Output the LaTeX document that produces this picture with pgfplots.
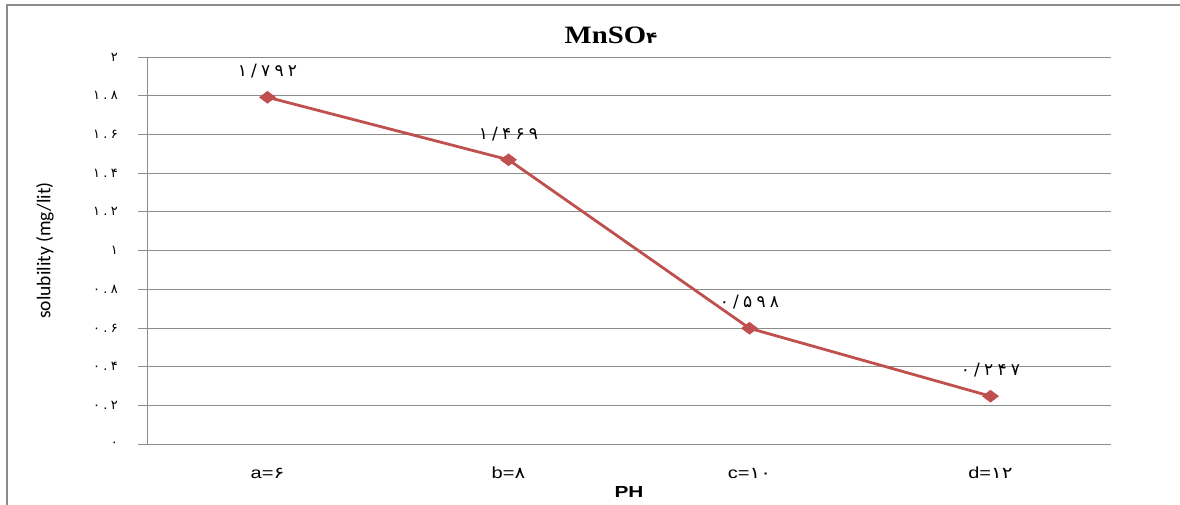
\documentclass[border=0pt]{standalone}
\usepackage{fontspec}
\setmainfont{Liberation Sans}
\newfontfamily\fa{DejaVu Sans}
\newfontfamily\fawide[LetterSpace=25]{DejaVu Sans}
\newfontfamily\titlefont{Liberation Serif}
\newfontfamily\calibri{Carlito}
\usepackage{pgfplots}
\pgfplotsset{compat=1.18}
\definecolor{serred}{HTML}{C0504D}
\definecolor{gridgray}{HTML}{8C8C8C}

\begin{document}
\begin{tikzpicture}[x=1pt,y=1pt]
\useasboundingbox (0,0) rectangle (1180,-504);
% chart area frame
\begin{scope}
\clip (0,0) rectangle (1180,-504);
\draw[gridgray, line width=1.2pt] (7,-5) rectangle (1220,-540);
\end{scope}
% title
\node[anchor=base, xscale=1.15] at (611,-43) {\titlefont\bfseries\fontsize{25}{25}\selectfont MnSO{\fa\bfseries\fontsize{16}{16}\selectfont ۴}};
\begin{axis}[
  at={(147pt,-444pt)}, anchor=south west,
  scale only axis, width=964pt, height=387pt,
  xmin=0, xmax=4, ymin=0, ymax=2,
  axis x line*=bottom, axis y line*=left,
  axis line style={-, gridgray, line width=0.8pt},
  xtick={0.5,1.5,2.5,3.5},
  xticklabels={a=\fa ۶, b=\fa ۸, c=\fa ۱۰, d=\fa ۱۲},
  xtick style={draw=none},
  minor xtick={0,1,2,3,4},
  minor x tick style={gridgray, line width=0.8pt},
  minor tick length=6pt,
  tick align=outside,
  ytick={0,0.2,0.4,0.6,0.8,1,1.2,1.4,1.6,1.8,2},
  yticklabels={۰,۰.۲,۰.۴,۰.۶,۰.۸,۱,۱.۲,۱.۴,۱.۶,۱.۸,۲},
  major tick length=9pt,
  y tick style={gridgray, line width=0.8pt},
  ymajorgrids,
  grid style={gridgray, line width=0.8pt},
  yticklabel style={font=\fawide\fontsize{13}{13}\selectfont, anchor=east, inner sep=0pt, xshift=-20pt},
  xticklabel style={font=\fontsize{16}{16}\selectfont, anchor=center, inner sep=0pt, yshift=-20pt, xscale=1.25},
  xlabel={PH},
  xlabel style={font=\bfseries\fontsize{16}{16}\selectfont, anchor=center, inner sep=0pt, at={(axis description cs:0.5,0)}, yshift=-48pt, xscale=1.3},
  ylabel={solubility (mg/lit)},
  ylabel style={font=\calibri\fontsize{19.5}{19.5}\selectfont, anchor=center, inner sep=0pt, at={(axis description cs:-0.106,0.5)}},
  clip=false,
  point meta=explicit symbolic,
  nodes near coords={\fawide\fontsize{17}{17}\selectfont\pgfplotspointmeta},
  every node near coord/.append style={anchor=center, yshift=26pt, text=black},
]
\addplot[serred, line width=2.8pt, mark=diamond*, mark size=8pt,
  mark options={rotate=90, fill=serred, draw=serred, line width=0.5pt}]
  coordinates {
    (0.5,1.792) [۱/۷۹۲]
    (1.5,1.469) [۱/۴۶۹]
    (2.5,0.598) [۰/۵۹۸]
    (3.5,0.247) [۰/۲۴۷]
  };
\end{axis}
\end{tikzpicture}
\end{document}
